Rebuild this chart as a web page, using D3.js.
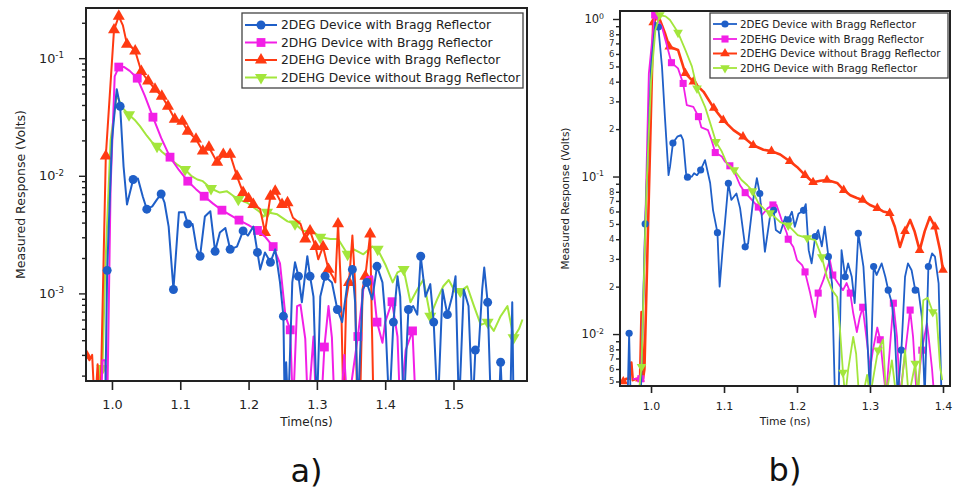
<!DOCTYPE html>
<html>
<head>
<meta charset="utf-8">
<script src="https://cdn.jsdelivr.net/npm/d3@7"></script>
<style>
  html, body { margin: 0; padding: 0; background: #fff; }
  svg { display: block; }
</style>
</head>
<body>
<svg id="chart" width="953" height="491"></svg>
<script>
// ---------------- Data: panel a) (time in ns, response in volts) ----------------
// Readings at the noise floor are stored as 1e-4 V (below the axis range).
const legendA = [
  "2DEG Device with Bragg Reflector",
  "2DHG Device with Bragg Reflector",
  "2DEHG Device with Bragg Reflector",
  "2DEHG Device without Bragg Reflector"
];
const xTicksA = [1.0, 1.1, 1.2, 1.3, 1.4, 1.5];
const yDecadesA = [1e-1, 1e-2, 1e-3];
const yExpA = ["-1", "-2", "-3"];

const a2DEG = [[0.985,1e-4],[0.990,1e-4],[0.993,1.57e-3],[1.000,0.02],[1.007,0.0545],[1.012,0.039],[1.017,0.012],[1.022,0.0057],[1.031,0.0093],[1.038,0.0095],[1.045,0.0067],[1.051,0.0052],[1.059,0.0055],[1.066,0.0063],[1.072,0.0070],[1.077,0.0059],[1.083,0.0037],[1.090,0.00108],[1.098,0.0049],[1.106,0.0049],[1.111,0.0039],[1.118,0.0039],[1.124,0.0024],[1.129,0.00207],[1.136,0.0045],[1.144,0.0050],[1.151,0.00228],[1.158,0.0033],[1.166,0.0036],[1.173,0.00237],[1.183,0.0025],[1.192,0.0034],[1.199,0.0031],[1.207,0.0037],[1.213,0.00223],[1.217,0.0016],[1.224,0.00223],[1.232,0.00184],[1.239,0.00237],[1.246,0.00124],[1.251,0.00064],[1.253,1e-4],[1.255,0.00026],[1.258,1e-4],[1.264,0.00124],[1.268,0.00184],[1.273,0.0014],[1.278,0.00084],[1.286,0.00207],[1.290,0.0014],[1.295,0.00094],[1.300,1e-4],[1.305,0.00094],[1.312,0.0014],[1.322,0.00124],[1.330,0.00073],[1.337,0.00057],[1.345,0.00124],[1.352,0.0016],[1.356,0.00084],[1.360,1e-4],[1.367,0.00108],[1.373,0.00124],[1.381,0.00089],[1.388,0.0017],[1.396,0.00124],[1.400,0.00064],[1.406,1e-4],[1.412,0.00057],[1.418,0.0014],[1.422,0.00094],[1.427,1e-4],[1.434,0.00073],[1.441,0.00078],[1.447,0.00066],[1.452,0.00207],[1.459,0.00094],[1.466,0.0012],[1.471,0.00057],[1.477,1e-4],[1.484,0.00108],[1.491,0.00066],[1.498,0.00094],[1.503,0.0014],[1.508,1e-4],[1.515,0.00108],[1.522,0.00078],[1.528,1e-4],[1.532,0.00033],[1.537,0.00035],[1.542,0.00108],[1.545,0.00166],[1.550,0.00084],[1.555,1e-4],[1.566,1e-4],[1.569,0.00026],[1.572,1e-4],[1.583,1e-4],[1.586,0.00084],[1.588,1e-4]];

const a2DHG = [[0.975,1e-4],[0.984,1e-4],[0.986,2.7e-4],[0.990,2.7e-4],[0.993,1e-4],[0.998,0.008],[1.004,0.07],[1.010,0.084],[1.018,0.084],[1.026,0.078],[1.037,0.0676],[1.048,0.048],[1.060,0.0315],[1.072,0.021],[1.085,0.0144],[1.098,0.0112],[1.111,0.0090],[1.123,0.0077],[1.135,0.0067],[1.148,0.0058],[1.161,0.0051],[1.174,0.0046],[1.186,0.0042],[1.200,0.0038],[1.213,0.00343],[1.225,0.0030],[1.236,0.0025],[1.246,0.0018],[1.254,0.00064],[1.261,0.00049],[1.265,1e-4],[1.271,0.00078],[1.276,0.0008],[1.283,0.00041],[1.287,1e-4],[1.295,0.00043],[1.299,1e-4],[1.306,1e-4],[1.311,0.00035],[1.317,0.00078],[1.322,0.00042],[1.326,1e-4],[1.335,1e-4],[1.340,0.0003],[1.345,1e-4],[1.353,2.2e-4],[1.360,0.00043],[1.368,0.00108],[1.373,0.00137],[1.381,0.0014],[1.388,0.00057],[1.396,0.00038],[1.400,0.00057],[1.410,0.00085],[1.418,0.00043],[1.422,1e-4],[1.430,0.00033],[1.440,0.00048],[1.445,1e-4],[1.448,1e-4]];

const a2DEHG = [[0.962,3.0e-4],[0.967,2.7e-4],[0.971,3.0e-4],[0.975,1e-4],[0.979,2.5e-4],[0.983,1e-4],[0.991,0.0147],[1.003,0.174],[1.010,0.227],[1.016,0.19],[1.022,0.131],[1.028,0.125],[1.034,0.115],[1.043,0.077],[1.053,0.064],[1.063,0.0545],[1.073,0.0475],[1.082,0.039],[1.092,0.0303],[1.103,0.029],[1.111,0.0239],[1.123,0.0205],[1.133,0.0162],[1.142,0.0175],[1.154,0.013],[1.163,0.0152],[1.173,0.0152],[1.183,0.0099],[1.192,0.0072],[1.200,0.0064],[1.207,0.0057],[1.217,0.0052],[1.224,0.0033],[1.232,0.0067],[1.239,0.0074],[1.249,0.0057],[1.257,0.0059],[1.265,0.0044],[1.276,0.0039],[1.283,0.0029],[1.290,0.0034],[1.298,0.0025],[1.302,0.00195],[1.309,0.0025],[1.317,0.0016],[1.323,0.0014],[1.327,0.00124],[1.331,0.0039],[1.335,0.0012],[1.339,1e-4],[1.343,0.0009],[1.347,0.00124],[1.352,0.0031],[1.356,0.0012],[1.359,1e-4],[1.363,1e-4],[1.367,0.0011],[1.371,0.0014],[1.378,0.0032],[1.383,1e-4]];

const a2DEHGnoDBR = [[0.978,1e-4],[0.982,2.4e-4],[0.986,2.3e-4],[0.990,0.0015],[0.998,0.02],[1.007,0.049],[1.015,0.038],[1.025,0.033],[1.033,0.030],[1.041,0.0264],[1.051,0.0219],[1.058,0.0195],[1.066,0.0178],[1.073,0.016],[1.081,0.0147],[1.088,0.0135],[1.095,0.0125],[1.107,0.0113],[1.116,0.0100],[1.125,0.0093],[1.133,0.0090],[1.145,0.0078],[1.158,0.0072],[1.168,0.0074],[1.177,0.0068],[1.185,0.0063],[1.198,0.0059],[1.207,0.0054],[1.215,0.0050],[1.222,0.0045],[1.227,0.0049],[1.242,0.0047],[1.257,0.0041],[1.268,0.0039],[1.280,0.0034],[1.293,0.0034],[1.305,0.0030],[1.320,0.0029],[1.331,0.0029],[1.345,0.00215],[1.354,0.00237],[1.368,0.00215],[1.381,0.0025],[1.389,0.00237],[1.400,0.00177],[1.411,0.00124],[1.418,0.00151],[1.427,0.0016],[1.437,0.00084],[1.447,0.00108],[1.456,0.00131],[1.466,0.00064],[1.476,0.00089],[1.485,0.00115],[1.493,0.0013],[1.503,0.00102],[1.510,0.00104],[1.520,0.00115],[1.530,0.00078],[1.540,0.00054],[1.550,0.00057],[1.559,0.00048],[1.569,0.00064],[1.579,0.00078],[1.588,0.00042],[1.596,0.00050],[1.601,0.0006]];

// ---------------- Data: panel b) ----------------
// Readings at the noise floor are stored as 0.004 V (below the axis range).
const legendB = [
  "2DEG Device with Bragg Reflector",
  "2DEHG Device with Bragg Reflector",
  "2DEHG Device without Bragg Reflector",
  "2DHG Device with Bragg Reflector"
];
const xTicksB = [1.0, 1.1, 1.2, 1.3, 1.4];
const yDecadesB = [1, 1e-1, 1e-2];
const yExpB = ["0", "-1", "-2"];

const b2DEG = [[0.958,0.004],[0.968,0.004],[0.970,0.0101],[0.972,0.004],[0.986,0.004],[0.992,0.05],[1.000,0.5],[1.006,0.95],[1.010,0.89],[1.015,0.50],[1.019,0.24],[1.024,0.102],[1.026,0.115],[1.030,0.163],[1.036,0.179],[1.041,0.183],[1.044,0.17],[1.048,0.105],[1.050,0.099],[1.056,0.100],[1.059,0.105],[1.063,0.102],[1.068,0.110],[1.074,0.127],[1.081,0.091],[1.085,0.061],[1.091,0.044],[1.094,0.020],[1.098,0.0341],[1.106,0.0905],[1.110,0.071],[1.117,0.078],[1.122,0.063],[1.129,0.0358],[1.133,0.0375],[1.140,0.071],[1.145,0.0975],[1.149,0.078],[1.156,0.0333],[1.163,0.0556],[1.168,0.061],[1.171,0.0457],[1.177,0.0437],[1.184,0.0556],[1.188,0.053],[1.193,0.0598],[1.197,0.048],[1.202,0.058],[1.209,0.061],[1.212,0.0668],[1.216,0.0341],[1.220,0.0281],[1.225,0.0415],[1.229,0.0457],[1.234,0.036],[1.238,0.048],[1.243,0.031],[1.248,0.021],[1.252,0.004],[1.257,0.004],[1.261,0.0341],[1.266,0.0231],[1.270,0.0281],[1.275,0.0231],[1.279,0.0157],[1.284,0.0436],[1.291,0.0268],[1.295,0.0129],[1.300,0.004],[1.305,0.0268],[1.309,0.0237],[1.316,0.0281],[1.321,0.0231],[1.325,0.019],[1.330,0.0157],[1.334,0.0101],[1.338,0.004],[1.343,0.0079],[1.348,0.0231],[1.352,0.0281],[1.357,0.0254],[1.362,0.019],[1.366,0.0195],[1.371,0.0129],[1.375,0.004],[1.380,0.0268],[1.385,0.0325],[1.389,0.031],[1.394,0.021],[1.398,0.004]];

const b2DEHG = [[0.975,0.0052],[0.982,0.0052],[0.986,0.0052],[0.990,0.02],[0.997,0.45],[1.005,1.06],[1.015,0.89],[1.021,0.70],[1.028,0.528],[1.037,0.486],[1.044,0.39],[1.049,0.284],[1.058,0.277],[1.065,0.24],[1.069,0.205],[1.078,0.197],[1.083,0.17],[1.088,0.142],[1.097,0.134],[1.101,0.125],[1.108,0.117],[1.115,0.105],[1.122,0.088],[1.129,0.079],[1.136,0.073],[1.147,0.064],[1.152,0.057],[1.160,0.063],[1.167,0.066],[1.172,0.066],[1.179,0.053],[1.186,0.0438],[1.188,0.040],[1.195,0.0357],[1.200,0.0295],[1.207,0.0274],[1.211,0.0248],[1.218,0.0182],[1.225,0.0128],[1.229,0.0182],[1.236,0.022],[1.245,0.0295],[1.249,0.0237],[1.256,0.0211],[1.263,0.019],[1.268,0.0211],[1.273,0.0182],[1.277,0.0136],[1.282,0.0103],[1.286,0.0128],[1.290,0.0148],[1.296,0.0088],[1.300,0.0059],[1.304,0.0079],[1.310,0.011],[1.314,0.0092],[1.318,0.006],[1.322,0.004],[1.327,0.0079],[1.332,0.0157],[1.337,0.0096],[1.341,0.004],[1.348,0.0075],[1.355,0.0142],[1.359,0.0096],[1.364,0.004],[1.371,0.0079],[1.378,0.0117],[1.380,0.0099],[1.385,0.006],[1.388,0.004]];

const b2DEHGnoDBR = [[0.962,0.0050],[0.966,0.0052],[0.970,0.0052],[0.973,0.0066],[0.975,0.0051],[0.980,0.0052],[0.985,0.0052],[0.987,0.0138],[0.989,0.0052],[0.991,0.006],[1.003,0.95],[1.010,1.05],[1.019,0.815],[1.025,0.667],[1.037,0.636],[1.047,0.452],[1.058,0.40],[1.072,0.345],[1.086,0.272],[1.099,0.228],[1.113,0.197],[1.126,0.179],[1.140,0.158],[1.154,0.148],[1.165,0.145],[1.177,0.138],[1.190,0.125],[1.200,0.115],[1.211,0.102],[1.222,0.092],[1.232,0.094],[1.241,0.095],[1.255,0.091],[1.264,0.082],[1.273,0.076],[1.282,0.073],[1.290,0.071],[1.300,0.066],[1.310,0.063],[1.318,0.060],[1.327,0.0586],[1.334,0.048],[1.341,0.0357],[1.348,0.045],[1.355,0.053],[1.361,0.045],[1.368,0.034],[1.375,0.045],[1.382,0.0553],[1.389,0.048],[1.396,0.034],[1.400,0.0255]];

const b2DHG = [[0.984,0.0046],[0.987,0.0062],[0.990,0.02],[0.994,0.09],[1.000,0.4],[1.006,0.85],[1.012,1.06],[1.020,1.04],[1.026,0.985],[1.037,0.82],[1.047,0.636],[1.056,0.50],[1.063,0.363],[1.074,0.277],[1.081,0.219],[1.089,0.166],[1.097,0.144],[1.104,0.121],[1.114,0.110],[1.124,0.095],[1.132,0.088],[1.139,0.081],[1.147,0.068],[1.155,0.062],[1.163,0.0586],[1.170,0.055],[1.177,0.0514],[1.188,0.049],[1.201,0.0425],[1.214,0.0407],[1.225,0.0395],[1.234,0.0308],[1.241,0.023],[1.248,0.019],[1.255,0.0172],[1.259,0.0105],[1.263,0.0057],[1.266,0.0040],[1.270,0.0059],[1.277,0.0096],[1.281,0.0075],[1.285,0.004],[1.290,0.004],[1.296,0.0055],[1.300,0.004],[1.311,0.0079],[1.318,0.0092],[1.322,0.004],[1.330,0.0068],[1.336,0.004],[1.342,0.004],[1.348,0.0079],[1.353,0.004],[1.362,0.0065],[1.366,0.004],[1.373,0.0164],[1.379,0.017],[1.386,0.0138],[1.391,0.0136],[1.396,0.0062],[1.399,0.0051]];

// ---------------- Styles ----------------
const BLUE = "#1f5fc8", MAGENTA = "#f21fe6", RED = "#ff3a12", GREEN = "#a3e63c";
const FONT = "'DejaVu Sans', Verdana, sans-serif";
const INK = "#222";

const panels = [
  {
    id: "a",
    left: 86, right: 527, top: 8, bottom: 381,
    xDomain: [0.962, 1.6076], yDomain: [1.8e-4, 0.267],
    xTicks: xTicksA, yDecades: yDecadesA, yExp: yExpA,
    xTickLen: 9, xTickPad: 10, xTickFont: 12.8,
    yMajorLen: 7, yMinorLen: 4, yLabelX: 64, yLabelFont: 12.8, yMinorLabels: false,
    xTitle: "Time(ns)", xTitleY: 426, xTitleFont: 12,
    yTitle: "Measured Response (Volts)", yTitleX: 21, yTitleFont: 12.5,
    tag: "a)", tagY: 482,
    markScale: 1.12,
    legend: { x: 242, y: 13, w: 281, h: 75, rows: [25, 42.5, 60, 77.5], lineX0: 245, lineX1: 277, textX: 281, font: 12.3 },
    series: [
      { label: legendA[0], data: a2DEG, color: BLUE, symbol: "circle", phase: 0.993, step: 0.0199, width: 2 },
      { label: legendA[1], data: a2DHG, color: MAGENTA, symbol: "square", phase: 1.010, step: 0.0251, width: 2 },
      { label: legendA[2], data: a2DEHG, color: RED, symbol: "up", phase: 1.003, step: 0.0099, width: 2 },
      { label: legendA[3], data: a2DEHGnoDBR, color: GREEN, symbol: "down", phase: 1.025, step: 0.0405, width: 2 }
    ],
    drawOrder: [3, 2, 1, 0]
  },
  {
    id: "b",
    left: 620, right: 950, top: 11, bottom: 386,
    xDomain: [0.9575, 1.4096], yDomain: [0.00468, 1.124],
    xTicks: xTicksB, yDecades: yDecadesB, yExp: yExpB,
    xTickLen: 7, xTickPad: 9, xTickFont: 11,
    yMajorLen: 7, yMinorLen: 4, yLabelX: 604, yLabelFont: 11.5, yMinorLabels: true,
    xTitle: "Time (ns)", xTitleY: 425, xTitleFont: 10.8,
    yTitle: "Measured Response (Volts)", yTitleX: 565, yTitleFont: 10.5,
    tag: "b)", tagY: 481,
    markScale: 0.9,
    legend: { x: 710, y: 13, w: 238, h: 65, rows: [24, 39, 53.5, 68], lineX0: 713, lineX1: 737, textX: 740, font: 10.3 },
    series: [
      { label: legendB[0], data: b2DEG, color: BLUE, symbol: "circle", phase: 1.010, step: 0.0196, width: 1.8 },
      { label: legendB[1], data: b2DEHG, color: MAGENTA, symbol: "square", phase: 1.005, step: 0.0205, width: 1.8 },
      { label: legendB[2], data: b2DEHGnoDBR, color: RED, symbol: "up", phase: 1.003, step: 0.0203, width: 2.6 },
      { label: legendB[3], data: b2DHG, color: GREEN, symbol: "down", phase: 1.037, step: 0.025, width: 1.8 }
    ],
    drawOrder: [2, 1, 0, 3]
  }
];

const svg = d3.select("#chart");

function symbolPath(kind, scale) {
  if (kind === "circle") return d3.symbol(d3.symbolCircle, 50 * scale * scale)();
  if (kind === "square") return d3.symbol(d3.symbolSquare, 62 * scale * scale)();
  return d3.symbol(d3.symbolTriangle, 50 * scale * scale)();
}

// Markers sit on the data sample nearest to each step of a regular time grid.
function markerPoints(data, phase, step, floor) {
  const out = [];
  const t0 = data[0][0], t1 = data[data.length - 1][0];
  const kMin = Math.ceil((t0 - phase) / step - 0.5);
  const kMax = Math.floor((t1 - phase) / step + 0.5);
  for (let k = kMin; k <= kMax; k++) {
    const tm = phase + k * step;
    let best = null, bd = Infinity;
    for (const d of data) {
      const dd = Math.abs(d[0] - tm);
      if (dd < bd) { bd = dd; best = d; }
    }
    if (best && bd <= step / 2 && best[1] >= floor && !out.includes(best)) out.push(best);
  }
  return out;
}

function markerTransform(kind, px, py) {
  return kind === "down" ? `translate(${px},${py}) rotate(180)` : `translate(${px},${py})`;
}

function drawPanel(p) {
  const g = svg.append("g").attr("class", "panel-" + p.id);
  const x = d3.scaleLinear().domain(p.xDomain).range([p.left, p.right]);
  const y = d3.scaleLog().domain(p.yDomain).range([p.bottom, p.top]);

  const clipId = "clip-" + p.id;
  svg.append("clipPath").attr("id", clipId).append("rect")
    .attr("x", p.left).attr("y", p.top)
    .attr("width", p.right - p.left).attr("height", p.bottom - p.top);

  const plot = g.append("g").attr("clip-path", `url(#${clipId})`);
  const line = d3.line().x(d => x(d[0])).y(d => y(d[1]));

  p.drawOrder.forEach(i => {
    const s = p.series[i];
    const sg = plot.append("g");
    sg.append("path").datum(s.data)
      .attr("d", line)
      .attr("fill", "none")
      .attr("stroke", s.color)
      .attr("stroke-width", s.width)
      .attr("stroke-linejoin", "round");
    const marks = markerPoints(s.data, s.phase, s.step, p.yDomain[0]);
    sg.selectAll("path.mark").data(marks).join("path")
      .attr("class", "mark")
      .attr("d", symbolPath(s.symbol, p.markScale))
      .attr("transform", d => markerTransform(s.symbol, x(d[0]), y(d[1])))
      .attr("fill", s.color);
  });

  // frame
  g.append("rect")
    .attr("x", p.left).attr("y", p.top)
    .attr("width", p.right - p.left).attr("height", p.bottom - p.top)
    .attr("fill", "none").attr("stroke", INK).attr("stroke-width", 2);

  // x axis
  const xAxis = d3.axisBottom(x).tickValues(p.xTicks).tickFormat(d3.format(".1f"))
    .tickSize(p.xTickLen).tickPadding(p.xTickPad).tickSizeOuter(0);
  g.append("g").attr("transform", `translate(0,${p.bottom})`).call(xAxis)
    .call(a => a.select(".domain").remove())
    .call(a => a.selectAll("line").attr("stroke", INK).attr("stroke-width", 1.6))
    .call(a => a.selectAll("text").attr("fill", INK).attr("font-family", FONT).attr("font-size", p.xTickFont));

  // y axis: decade and minor ticks from the log scale
  const isMajor = v => Math.abs(Math.log10(v) - Math.round(Math.log10(v))) < 1e-6;
  const yTicks = y.ticks().filter(v => v >= p.yDomain[0] && v <= p.yDomain[1]);
  const yAxis = d3.axisLeft(y).tickValues(yTicks).tickFormat(() => "").tickSizeOuter(0);
  g.append("g").attr("transform", `translate(${p.left},0)`).call(yAxis)
    .call(a => a.select(".domain").remove())
    .call(a => a.selectAll(".tick line")
      .attr("x2", d => isMajor(d) ? -p.yMajorLen : -p.yMinorLen)
      .attr("stroke", INK).attr("stroke-width", 1.4))
    .call(a => a.selectAll(".tick text").remove());

  // decade labels 10^n
  p.yDecades.forEach((v, i) => {
    const t = g.append("text")
      .attr("x", p.yLabelX).attr("y", y(v)).attr("dy", "0.36em")
      .attr("text-anchor", "end")
      .attr("font-family", FONT).attr("font-size", p.yLabelFont).attr("fill", INK);
    t.append("tspan").text("10");
    t.append("tspan").attr("dy", "-0.55em").attr("font-size", p.yLabelFont * 0.68).text(p.yExp[i]);
  });

  // mantissa labels between decades
  if (p.yMinorLabels) {
    yTicks.filter(v => !isMajor(v)).forEach(v => {
      const m = Math.round(v / Math.pow(10, Math.floor(Math.log10(v) + 1e-9)));
      if (m > 8) return;
      g.append("text")
        .attr("x", p.left - p.yMinorLen - 1.5).attr("y", y(v)).attr("dy", "0.35em")
        .attr("text-anchor", "end")
        .attr("font-family", FONT).attr("font-size", 8.5).attr("fill", "#333")
        .text(m);
    });
  }

  // axis titles
  g.append("text")
    .attr("x", (p.left + p.right) / 2).attr("y", p.xTitleY)
    .attr("text-anchor", "middle")
    .attr("font-family", FONT).attr("font-size", p.xTitleFont).attr("fill", INK)
    .text(p.xTitle);
  g.append("text")
    .attr("transform", `translate(${p.yTitleX},${(p.top + p.bottom) / 2}) rotate(-90)`)
    .attr("text-anchor", "middle").attr("dy", "0.35em")
    .attr("font-family", FONT).attr("font-size", p.yTitleFont).attr("fill", INK)
    .text(p.yTitle);

  // panel tag
  g.append("text")
    .attr("x", (p.left + p.right) / 2).attr("y", p.tagY)
    .attr("text-anchor", "middle")
    .attr("font-family", FONT).attr("font-size", 32).attr("fill", "#111")
    .text(p.tag);

  // legend
  const L = p.legend;
  const lg = g.append("g");
  lg.append("rect").attr("x", L.x).attr("y", L.y).attr("width", L.w).attr("height", L.h)
    .attr("fill", "#fff").attr("stroke", "#444").attr("stroke-width", 1.3);
  p.series.forEach((s, i) => {
    const ry = L.rows[i];
    lg.append("line").attr("x1", L.lineX0).attr("x2", L.lineX1).attr("y1", ry).attr("y2", ry)
      .attr("stroke", s.color).attr("stroke-width", s.width > 2 ? 2 : s.width);
    lg.append("path").attr("d", symbolPath(s.symbol, p.markScale))
      .attr("transform", markerTransform(s.symbol, (L.lineX0 + L.lineX1) / 2, ry))
      .attr("fill", s.color);
    lg.append("text").attr("x", L.textX).attr("y", ry).attr("dy", "0.36em")
      .attr("font-family", FONT).attr("font-size", L.font).attr("fill", INK)
      .text(s.label);
  });
}

panels.forEach(drawPanel);
</script>
</body>
</html>
